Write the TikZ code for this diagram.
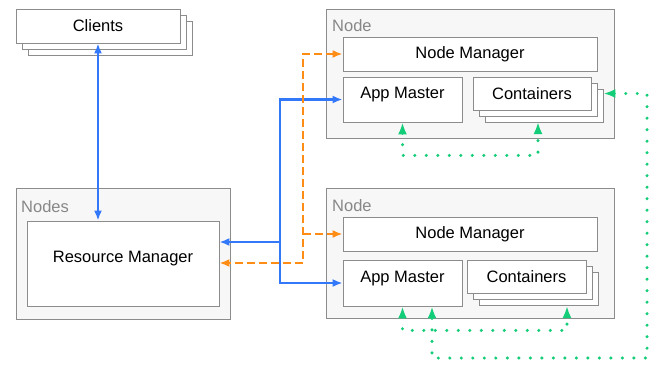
\documentclass[tikz,border=0pt]{standalone}
\usepackage{fontspec}
\setmainfont{Liberation Sans}
\usetikzlibrary{arrows.meta,shadows}
\definecolor{boxgray}{RGB}{140,140,140}
\definecolor{labelgray}{RGB}{135,135,135}
\definecolor{panelgray}{RGB}{247,247,247}
\definecolor{flowblue}{RGB}{52,120,250}
\definecolor{floworange}{RGB}{255,140,20}
\definecolor{flowgreen}{RGB}{20,205,120}
\begin{document}
\begin{tikzpicture}[x=1pt,y=-1pt,
  txt/.style={font=\fontsize{16.5}{19}\selectfont},
  panel/.style={draw=boxgray,fill=panelgray,line width=0.8pt,inner sep=0pt},
  unit/.style={draw=boxgray,fill=white,line width=0.8pt,txt,inner sep=0pt},
  stack/.style={unit,double copy shadow={shadow xshift=6pt,shadow yshift=-6pt,fill=white,draw=boxgray}},
  uptext/.style={text depth=13pt},
  tag/.style={txt,text=labelgray,anchor=base west,inner sep=0pt},
  bluetip/.style={arrows={#1}},
  blueflow/.style={draw=flowblue,line width=2.8pt,arrows={-Latex[length=10pt,width=8pt]}},
  blueboth/.style={blueflow,arrows={Latex[length=10pt,width=8pt]-Latex[length=10pt,width=8pt]}},
  orangeflow/.style={draw=floworange,line width=2.8pt,dash pattern=on 8pt off 4pt,arrows={-Latex[length=10pt,width=8pt]}},
  orangeboth/.style={orangeflow,arrows={Latex[length=10pt,width=8pt]-Latex[length=10pt,width=8pt]}},
  greenboth/.style={draw=flowgreen,line width=3.4pt,line cap=round,dash pattern=on 0pt off 11.5pt,arrows={Latex[length=12pt,width=9pt]-Latex[length=12pt,width=9pt]}}]
\useasboundingbox (0,0) rectangle (657,367);
\node[stack,minimum width=164pt,minimum height=34pt] (clients) at (98,26) {Clients};
\node[panel,minimum width=214pt,minimum height=131pt] (nodes) at (123,253.5) {};
\node[tag] (nodestag) at (21,212) {Nodes};
\node[unit,uptext,minimum width=192pt,minimum height=85pt] (rm) at (123,263.5) {Resource Manager};
\node[panel,minimum width=288pt,minimum height=129pt] (node1) at (470,73.5) {};
\node[tag] (node1tag) at (332,31) {Node};
\node[unit,minimum width=254pt,minimum height=34pt] (nm1) at (470,54) {Node Manager};
\node[unit,uptext,minimum width=119pt,minimum height=45pt] (am1) at (402.5,99.5) {App Master};
\node[stack,minimum width=118pt,minimum height=33pt] (cont1) at (532,93.5) {Containers};
\node[panel,minimum width=288pt,minimum height=130pt] (node2) at (470,253) {};
\node[tag] (node2tag) at (332,211) {Node};
\node[unit,minimum width=254pt,minimum height=34pt] (nm2) at (470,234) {Node Manager};
\node[unit,uptext,minimum width=119pt,minimum height=46pt] (am2) at (402.5,283) {App Master};
\node[stack,minimum width=119pt,minimum height=33pt] (cont2) at (526.5,276.5) {Containers};
\coordinate (bmid) at (280,242);
\coordinate (omid) at (303,263);
\coordinate (cont1back) at (538,122);
\coordinate (cont2back) at (567,306);
\coordinate (gbr) at (647,358);
\draw[blueboth] (clients.south) -- (clients.south |- rm.north);
\draw[blueboth] (am1.west) -| (bmid) |- (am2.west);
\draw[blueflow] (bmid) -- (rm.east |- bmid);
\draw[orangeboth] (nm1.west) -| (omid) -- (rm.east |- omid);
\draw[orangeflow] (nm2.west -| omid) -- (nm2.west);
\draw[greenboth] (am1.south) -- ++(0,33) -| (cont1back);
\draw[greenboth] ([xshift=12pt]cont1.east) -| (gbr) -| ([xshift=29.5pt]am2.south);
\draw[greenboth] (am2.south) -- ++(0,24) -| (cont2back);
\end{tikzpicture}
\end{document}
